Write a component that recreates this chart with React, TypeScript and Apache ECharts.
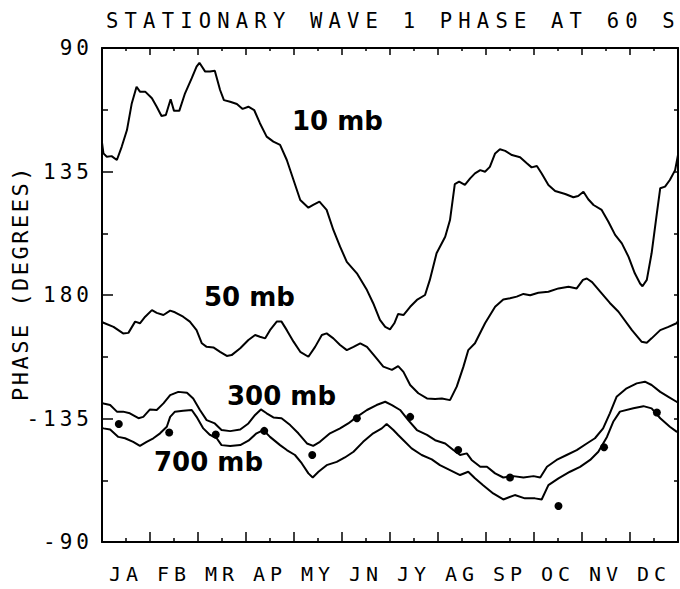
import { useEffect, useRef } from "react";
import * as echarts from "echarts";

const TITLE = "STATIONARY WAVE 1 PHASE AT 60 S";
const Y_NAME = "PHASE (DEGREES)";
const MONTHS = ["JA", "FB", "MR", "AP", "MY", "JN", "JY", "AG", "SP", "OC", "NV", "DC"];
// Phase axis runs 90 -> 270 degrees; values past 180 are printed as negative longitudes.
const PHASE_TICKS = [90, 135, 180, 225, 270];
const PHASE_TICK_LABELS = ["90", "135", "180", "-135", "-90"];
const LEVEL_LABELS = ["10 mb", "50 mb", "300 mb", "700 mb"];

// [month position (0 = start of January, 12 = end of December), phase in degrees]
const phase10mb: [number, number][] = [
  [0.0, 124.5], [0.03, 128.4], [0.1, 129.6], [0.2, 129.4], [0.31, 130.8], [0.41, 126.0], [0.52, 119.9],
  [0.62, 110.2], [0.72, 104.1], [0.79, 105.9], [0.9, 105.9], [1.04, 108.3], [1.14, 111.4], [1.24, 114.8],
  [1.33, 114.4], [1.43, 108.7], [1.5, 112.9], [1.61, 112.9], [1.73, 106.5], [1.87, 101.0], [1.97, 96.8],
  [2.03, 95.4], [2.15, 98.6], [2.25, 98.6], [2.35, 98.3], [2.46, 105.3], [2.54, 109.0], [2.67, 109.6],
  [2.81, 110.4], [2.93, 112.2], [3.05, 111.4], [3.17, 112.6], [3.29, 117.4], [3.43, 122.3], [3.57, 124.1],
  [3.71, 125.3], [3.85, 130.8], [3.99, 138.1], [4.13, 145.4], [4.3, 148.2], [4.4, 147.2], [4.53, 146.0],
  [4.68, 149.0], [4.82, 156.3], [4.96, 162.4], [5.1, 167.9], [5.31, 172.1], [5.52, 178.2], [5.65, 183.0],
  [5.79, 189.1], [5.9, 191.6], [6.0, 192.5], [6.09, 190.3], [6.17, 186.9], [6.28, 187.3], [6.42, 184.3],
  [6.56, 181.8], [6.73, 180.0], [6.83, 174.5], [6.97, 164.8], [7.15, 158.8], [7.25, 152.7], [7.35, 139.6],
  [7.44, 138.7], [7.56, 139.9], [7.67, 137.5], [7.77, 135.7], [7.88, 134.5], [7.98, 135.1], [8.08, 133.3],
  [8.19, 128.4], [8.29, 126.9], [8.4, 127.5], [8.54, 129.0], [8.71, 129.8], [8.85, 132.0], [8.95, 133.5],
  [9.06, 133.0], [9.16, 135.7], [9.3, 139.9], [9.44, 142.1], [9.65, 143.2], [9.82, 144.4], [9.92, 143.9],
  [10.03, 142.4], [10.13, 145.1], [10.24, 147.2], [10.41, 149.0], [10.55, 153.3], [10.69, 158.1],
  [10.83, 161.2], [10.97, 166.1], [11.1, 172.1], [11.21, 175.8], [11.26, 176.8], [11.35, 174.5],
  [11.45, 164.8], [11.56, 150.2], [11.63, 141.1], [11.73, 140.5], [11.83, 138.1], [11.94, 134.5], [12.0, 129.0],
];

const phase50mb: [number, number][] = [
  [0.0, 189.8], [0.03, 190.1], [0.24, 191.6], [0.44, 194.0], [0.55, 193.8], [0.69, 189.7], [0.79, 190.3],
  [0.9, 187.9], [1.04, 185.5], [1.14, 186.5], [1.28, 187.3], [1.42, 185.7], [1.52, 186.3], [1.69, 187.9],
  [1.83, 189.7], [1.97, 192.8], [2.08, 197.6], [2.18, 198.9], [2.32, 199.1], [2.46, 200.7], [2.6, 202.2],
  [2.7, 201.9], [2.88, 199.4], [3.05, 196.4], [3.19, 194.6], [3.29, 195.2], [3.4, 195.8], [3.5, 192.8],
  [3.64, 189.7], [3.74, 189.7], [3.85, 192.8], [3.99, 197.0], [4.13, 200.7], [4.3, 202.5], [4.44, 198.9],
  [4.58, 194.6], [4.68, 194.0], [4.82, 195.8], [4.96, 198.2], [5.1, 200.1], [5.24, 198.9], [5.38, 197.6],
  [5.52, 198.9], [5.72, 203.1], [5.86, 206.1], [6.04, 207.3], [6.17, 205.9], [6.28, 208.0], [6.42, 212.8],
  [6.59, 215.8], [6.77, 217.7], [6.94, 217.9], [7.08, 217.7], [7.25, 218.3], [7.39, 213.4], [7.53, 206.1],
  [7.63, 200.1], [7.77, 197.6], [7.98, 190.3], [8.19, 184.3], [8.36, 181.6], [8.5, 181.2], [8.64, 180.6],
  [8.78, 179.6], [8.92, 180.1], [9.09, 179.2], [9.3, 178.8], [9.51, 177.6], [9.72, 177.0], [9.89, 177.6],
  [10.02, 174.5], [10.1, 174.0], [10.21, 175.3], [10.41, 179.4], [10.58, 182.9], [10.76, 186.1],
  [11.04, 192.8], [11.24, 197.0], [11.35, 197.4], [11.45, 195.8], [11.63, 192.8], [11.8, 191.6],
  [11.97, 190.3], [12.0, 189.5],
];

const phase300mb: [number, number][] = [
  [0.0, 219.3], [0.03, 219.5], [0.17, 220.1], [0.31, 222.5], [0.44, 222.5], [0.58, 223.1], [0.76, 224.9],
  [0.86, 224.4], [1.0, 221.7], [1.14, 221.9], [1.28, 219.5], [1.42, 216.5], [1.59, 215.3], [1.77, 215.6],
  [1.9, 217.7], [2.04, 221.9], [2.18, 225.6], [2.35, 226.8], [2.49, 229.2], [2.67, 229.6], [2.88, 229.0],
  [3.05, 226.8], [3.19, 223.7], [3.31, 221.7], [3.43, 223.1], [3.57, 224.6], [3.74, 224.9], [3.92, 227.4],
  [4.09, 230.4], [4.27, 234.1], [4.4, 235.0], [4.54, 233.5], [4.75, 230.4], [4.96, 228.6], [5.13, 226.8],
  [5.31, 224.4], [5.52, 221.9], [5.72, 220.1], [5.9, 218.9], [6.04, 220.1], [6.21, 221.9], [6.38, 225.6],
  [6.56, 229.2], [6.77, 231.0], [6.94, 232.9], [7.15, 234.1], [7.32, 236.5], [7.46, 238.3], [7.6, 237.7],
  [7.7, 240.1], [7.88, 242.6], [8.02, 242.6], [8.19, 245.0], [8.36, 246.5], [8.57, 246.0], [8.78, 246.5],
  [8.99, 246.0], [9.13, 246.5], [9.27, 242.6], [9.47, 240.1], [9.68, 238.3], [9.89, 236.5], [10.1, 234.1],
  [10.27, 232.2], [10.44, 228.6], [10.58, 223.1], [10.72, 217.1], [10.93, 214.0], [11.14, 212.2],
  [11.31, 211.6], [11.45, 212.8], [11.63, 215.3], [11.8, 217.1], [11.97, 218.9], [12.0, 219.1],
];

const phase700mb: [number, number][] = [
  [0.0, 228.4], [0.03, 228.6], [0.17, 229.0], [0.34, 231.7], [0.48, 232.2], [0.65, 233.5], [0.79, 235.0],
  [0.93, 233.5], [1.07, 232.2], [1.21, 230.4], [1.35, 228.0], [1.42, 224.4], [1.52, 222.5], [1.69, 222.2],
  [1.87, 221.9], [1.97, 224.4], [2.11, 228.6], [2.25, 231.0], [2.39, 232.2], [2.49, 234.7], [2.67, 235.0],
  [2.88, 234.7], [3.05, 233.1], [3.22, 230.4], [3.36, 229.2], [3.5, 231.7], [3.71, 234.7], [3.85, 236.5],
  [4.02, 238.3], [4.16, 241.3], [4.3, 245.0], [4.39, 246.5], [4.51, 244.4], [4.68, 242.0], [4.89, 240.8],
  [5.06, 239.2], [5.24, 237.1], [5.44, 233.5], [5.65, 230.4], [5.83, 228.6], [5.93, 227.0], [6.07, 229.2],
  [6.17, 231.0], [6.28, 232.9], [6.45, 235.9], [6.66, 238.3], [6.87, 239.9], [7.04, 242.0], [7.25, 243.8],
  [7.46, 245.6], [7.63, 244.4], [7.77, 246.8], [7.94, 249.3], [8.15, 252.3], [8.36, 254.5], [8.6, 252.9],
  [8.81, 254.1], [9.02, 254.1], [9.16, 254.5], [9.3, 249.3], [9.51, 246.8], [9.75, 244.4], [9.96, 242.6],
  [10.17, 240.1], [10.34, 237.1], [10.52, 231.7], [10.65, 226.2], [10.79, 222.5], [11.07, 221.3],
  [11.28, 220.5], [11.45, 221.3], [11.63, 224.9], [11.83, 228.0], [11.97, 229.8], [12.0, 230.0],
];

// Monthly phase estimates shown as dots
const dotMonth = [0.35, 1.4, 2.37, 3.38, 4.38, 5.31, 6.42, 7.42, 8.5, 9.51, 10.46, 11.56];
const dotPhase = [227.0, 230.1, 230.8, 229.5, 238.3, 224.9, 224.4, 236.5, 246.5, 256.9, 235.5, 222.8];

const PLOT_FONT = "'DejaVu Sans Mono', monospace";
const LABEL_FONT = "'DejaVu Sans', sans-serif";

// Extra tracking for the plotter-style lettering
const SPACING: Record<string, number> = { [TITLE]: 6.2, [Y_NAME]: 2.5 };
MONTHS.forEach((m) => (SPACING[m] = 5));
PHASE_TICK_LABELS.forEach((l) => (SPACING[l] = 4));

const black = "#000";

function levelLabel(text: string, x: number, y: number) {
  return {
    type: "text",
    x,
    y,
    silent: true,
    style: {
      text,
      fill: black,
      font: `bold 26px ${LABEL_FONT}`,
      align: "left",
      verticalAlign: "middle",
    },
  };
}

function lineSeries(name: string, data: [number, number][]) {
  return {
    name,
    type: "line",
    xAxisIndex: 0,
    yAxisIndex: 0,
    data,
    showSymbol: false,
    symbol: "none",
    silent: true,
    lineStyle: { color: black, width: 2 },
  };
}

function buildOption() {
  const tickLabelFor = (v: number) => {
    const i = PHASE_TICKS.indexOf(v);
    return i >= 0 ? PHASE_TICK_LABELS[i] : "";
  };
  return {
    animation: false,
    backgroundColor: "#fff",
    title: {
      text: TITLE,
      left: 106,
      top: 10,
      padding: 0,
      textStyle: { fontFamily: PLOT_FONT, fontSize: 20.5, fontWeight: "normal", color: black },
    },
    grid: { left: 102, right: 2, top: 48, bottom: 47, containLabel: false },
    xAxis: [
      {
        type: "value",
        position: "bottom",
        min: 0,
        max: 12,
        interval: 1,
        axisLine: { show: true, onZero: false, lineStyle: { color: black, width: 2 } },
        axisTick: { show: true, inside: true, length: 10, lineStyle: { color: black, width: 1.5 } },
        minorTick: { show: true, splitNumber: 2, length: 4, lineStyle: { color: black, width: 1.5 } },
        axisLabel: { show: false },
        splitLine: { show: false },
        minorSplitLine: { show: false },
      },
      {
        type: "value",
        position: "top",
        min: 0,
        max: 12,
        interval: 1,
        axisLine: { show: true, onZero: false, lineStyle: { color: black, width: 2 } },
        axisTick: { show: true, inside: true, length: 7, lineStyle: { color: black, width: 1.5 } },
        minorTick: { show: true, splitNumber: 2, length: 3, lineStyle: { color: black, width: 1.5 } },
        axisLabel: { show: false },
        splitLine: { show: false },
      },
      {
        type: "category",
        position: "bottom",
        data: MONTHS,
        boundaryGap: true,
        axisLine: { show: false },
        axisTick: { show: false },
        splitLine: { show: false },
        axisLabel: {
          interval: 0,
          margin: 22,
          color: black,
          fontFamily: PLOT_FONT,
          fontSize: 20,
        },
      },
    ],
    yAxis: [
      {
        type: "value",
        position: "left",
        inverse: true,
        min: 90,
        max: 270,
        interval: 45,
        name: Y_NAME,
        nameLocation: "middle",
        nameRotate: 90,
        nameGap: 69,
        nameTextStyle: {
          fontFamily: PLOT_FONT,
          fontSize: 22,
          color: black,
          padding: [0, 0, 0, 24],
        },
        axisLine: { show: true, onZero: false, lineStyle: { color: black, width: 2 } },
        axisTick: { show: true, inside: true, length: 11, lineStyle: { color: black, width: 1.5 } },
        minorTick: { show: true, splitNumber: 2, length: 6, lineStyle: { color: black, width: 1.5 } },
        axisLabel: {
          margin: 9,
          color: black,
          fontFamily: PLOT_FONT,
          fontSize: 21,
          formatter: tickLabelFor,
        },
        splitLine: { show: false },
      },
      {
        type: "value",
        position: "right",
        inverse: true,
        min: 90,
        max: 270,
        interval: 22.5,
        axisLine: { show: true, onZero: false, lineStyle: { color: black, width: 2 } },
        axisTick: { show: true, inside: true, length: 4, lineStyle: { color: black, width: 1.5 } },
        axisLabel: { show: false },
        splitLine: { show: false },
      },
    ],
    series: [
      lineSeries(LEVEL_LABELS[0], phase10mb),
      lineSeries(LEVEL_LABELS[1], phase50mb),
      lineSeries(LEVEL_LABELS[2], phase300mb),
      lineSeries(LEVEL_LABELS[3], phase700mb),
      {
        name: "monthly",
        type: "scatter",
        xAxisIndex: 0,
        yAxisIndex: 0,
        data: dotMonth.map((m, i) => [m, dotPhase[i]]),
        symbol: "circle",
        symbolSize: 8,
        silent: true,
        itemStyle: { color: black, opacity: 1 },
      },
    ],
    graphic: [
      levelLabel(LEVEL_LABELS[0], 292, 121),
      levelLabel(LEVEL_LABELS[1], 204, 297),
      levelLabel(LEVEL_LABELS[2], 227, 396),
      levelLabel(LEVEL_LABELS[3], 154, 462),
    ],
  };
}

export default function App() {
  const ref = useRef<HTMLDivElement>(null);

  useEffect(() => {
    document.body.style.margin = "0";
    const el = ref.current;
    if (!el) return;
    const chart = echarts.init(el, undefined, { renderer: "svg" });
    chart.setOption(buildOption() as any);

    const track = () => {
      el.querySelectorAll("text").forEach((t) => {
        const s = SPACING[(t.textContent || "").trim()];
        if (s !== undefined) t.setAttribute("letter-spacing", String(s));
      });
    };
    track();
    chart.on("finished", track);

    return () => {
      chart.off("finished", track);
      chart.dispose();
    };
  }, []);

  return <div ref={ref} style={{ width: 680, height: 589 }} />;
}
